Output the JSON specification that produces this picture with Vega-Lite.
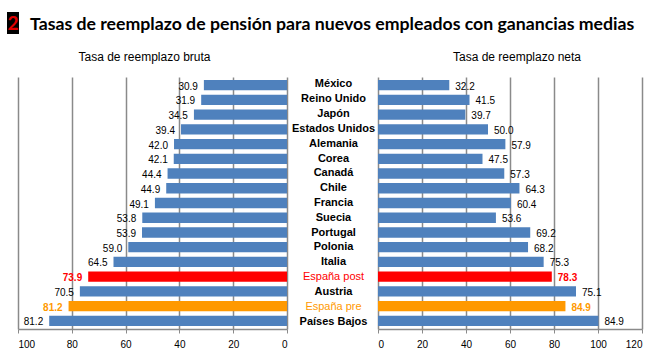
{
  "$schema": "https://vega.github.io/schema/vega-lite/v6.json",
  "padding": {"left": 7, "top": 9, "right": 5, "bottom": 5},
  "background": "white",
  "config": {
    "view": {"stroke": null},
    "font": "Liberation Sans"
  },
  "datasets": {
    "rows": [
      {"pais": "México", "bruta": 30.9, "bruta_lbl": 30.9, "neta": 32.4, "neta_lbl": 32.2, "tipo": "normal"},
      {"pais": "Reino Unido", "bruta": 31.9, "bruta_lbl": 31.9, "neta": 41.6, "neta_lbl": 41.5, "tipo": "normal"},
      {"pais": "Japón", "bruta": 34.6, "bruta_lbl": 34.5, "neta": 39.7, "neta_lbl": 39.7, "tipo": "normal"},
      {"pais": "Estados Unidos", "bruta": 39.4, "bruta_lbl": 39.4, "neta": 50.0, "neta_lbl": 50.0, "tipo": "normal"},
      {"pais": "Alemania", "bruta": 42.0, "bruta_lbl": 42.0, "neta": 57.9, "neta_lbl": 57.9, "tipo": "normal"},
      {"pais": "Corea", "bruta": 42.1, "bruta_lbl": 42.1, "neta": 47.5, "neta_lbl": 47.5, "tipo": "normal"},
      {"pais": "Canadá", "bruta": 44.4, "bruta_lbl": 44.4, "neta": 57.4, "neta_lbl": 57.3, "tipo": "normal"},
      {"pais": "Chile", "bruta": 44.9, "bruta_lbl": 44.9, "neta": 64.3, "neta_lbl": 64.3, "tipo": "normal"},
      {"pais": "Francia", "bruta": 49.1, "bruta_lbl": 49.1, "neta": 60.4, "neta_lbl": 60.4, "tipo": "normal"},
      {"pais": "Suecia", "bruta": 53.8, "bruta_lbl": 53.8, "neta": 53.6, "neta_lbl": 53.6, "tipo": "normal"},
      {"pais": "Portugal", "bruta": 53.9, "bruta_lbl": 53.9, "neta": 69.2, "neta_lbl": 69.2, "tipo": "normal"},
      {"pais": "Polonia", "bruta": 59.0, "bruta_lbl": 59.0, "neta": 68.2, "neta_lbl": 68.2, "tipo": "normal"},
      {"pais": "Italia", "bruta": 64.5, "bruta_lbl": 64.5, "neta": 75.3, "neta_lbl": 75.3, "tipo": "normal"},
      {"pais": "España post", "bruta": 73.9, "bruta_lbl": 73.9, "neta": 79.0, "neta_lbl": 78.3, "tipo": "post"},
      {"pais": "Austria", "bruta": 77.0, "bruta_lbl": 70.5, "neta": 90.0, "neta_lbl": 75.1, "tipo": "normal"},
      {"pais": "España pre", "bruta": 81.2, "bruta_lbl": 81.2, "neta": 85.2, "neta_lbl": 84.9, "tipo": "pre"},
      {"pais": "Países Bajos", "bruta": 88.4, "bruta_lbl": 81.2, "neta": 100.2, "neta_lbl": 84.9, "tipo": "normal"}
    ],
    "num": [{"n": "2"}]
  },
  "vconcat": [
    {
      "hconcat": [
        {
          "width": 12,
          "height": 22,
          "data": {"name": "num"},
          "layer": [
            {"mark": {"type": "point", "shape": "M-0.5454,-1H0.5454V1H-0.5454Z", "size": 484, "filled": true, "color": "#000000", "opacity": 1, "strokeWidth": 0, "xOffset": -11}},
            {"mark": {"type": "text", "color": "#E00000", "fontSize": 19, "fontWeight": "bold", "font": "Lato", "baseline": "middle", "align": "center", "dy": 1, "dx": -11},
             "encoding": {"text": {"field": "n"}}}
          ]
        },
        {
          "width": 600,
          "height": 1,
          "data": {"name": "num"},
          "title": {
            "text": "Tasas de reemplazo de pensión para nuevos empleados con ganancias medias",
            "orient": "bottom",
            "anchor": "start",
            "frame": "group",
            "baseline": "alphabetic",
            "offset": 15,
            "dx": -2,
            "font": "Lato",
            "fontSize": 17.7,
            "fontWeight": "bold",
            "color": "#000000"
          },
          "mark": {"type": "point", "opacity": 0}
        }
      ],
      "spacing": 0
    },
    {
      "hconcat": [
        {
          "width": 269,
          "height": 252,
          "data": {"name": "rows"},
          "title": {"text": "Tasa de reemplazo bruta", "fontSize": 12, "fontWeight": "normal", "font": "Liberation Sans", "color": "#000000", "offset": 13, "dx": -8},
          "encoding": {
            "y": {"field": "pais", "type": "nominal", "axis": null,
                  "scale": {"domain": ["México", "Reino Unido", "Japón", "Estados Unidos", "Alemania", "Corea", "Canadá", "Chile", "Francia", "Suecia", "Portugal", "Polonia", "Italia", "España post", "Austria", "España pre", "Países Bajos"],
                            "paddingInner": 0.3, "paddingOuter": 0.2}}
          },
          "layer": [
            {
              "mark": {"type": "bar"},
              "encoding": {
                "x": {"field": "bruta", "type": "quantitative",
                      "scale": {"domain": [0, 100], "reverse": true, "nice": false},
                      "axis": {"title": null, "values": [0, 20, 40, 60, 80, 100], "grid": true,
                               "gridColor": "#8a8a8a", "gridWidth": 1.5, "domainColor": "#8a8a8a", "domainWidth": 1.5,
                               "tickColor": "#8a8a8a", "tickSize": 4, "labelFontSize": 10, "labelColor": "#000000",
                               "labelPadding": 6, "labelFont": "Liberation Sans"}},
                "color": {"field": "tipo", "type": "nominal",
                          "scale": {"domain": ["normal", "post", "pre"], "range": ["#4F81BD", "#FF0000", "#FF9900"]},
                          "legend": null}
              }
            },
            {
              "transform": [{"filter": "datum.tipo == 'normal'"}],
              "mark": {"type": "text", "align": "right", "baseline": "middle", "dx": -6, "dy": 1.5, "fontSize": 10, "color": "#000000"},
              "encoding": {
                "x": {"field": "bruta", "type": "quantitative"},
                "text": {"field": "bruta_lbl", "type": "quantitative", "format": ".1f"}
              }
            },
            {
              "transform": [{"filter": "datum.tipo != 'normal'"}],
              "mark": {"type": "text", "align": "right", "baseline": "middle", "dx": -6, "dy": 1.5, "fontSize": 10, "fontWeight": "bold"},
              "encoding": {
                "x": {"field": "bruta", "type": "quantitative"},
                "text": {"field": "bruta_lbl", "type": "quantitative", "format": ".1f"},
                "color": {"field": "tipo", "type": "nominal", "legend": null}
              }
            }
          ]
        },
        {
          "width": 91,
          "height": 252,
          "data": {"name": "rows"},
          "encoding": {
            "y": {"field": "pais", "type": "nominal", "axis": null,
                  "scale": {"domain": ["México", "Reino Unido", "Japón", "Estados Unidos", "Alemania", "Corea", "Canadá", "Chile", "Francia", "Suecia", "Portugal", "Polonia", "Italia", "España post", "Austria", "España pre", "Países Bajos"],
                            "paddingInner": 0.3, "paddingOuter": 0.2}}
          },
          "layer": [
            {
              "transform": [{"filter": "datum.tipo == 'normal'"}],
              "mark": {"type": "text", "align": "center", "baseline": "middle", "fontSize": 11, "fontWeight": "bold", "color": "#000000", "dx": 1},
              "encoding": {"text": {"field": "pais"}}
            },
            {
              "transform": [{"filter": "datum.tipo != 'normal'"}],
              "mark": {"type": "text", "align": "center", "baseline": "middle", "fontSize": 11, "fontWeight": "normal", "dx": 1},
              "encoding": {
                "text": {"field": "pais"},
                "color": {"field": "tipo", "type": "nominal",
                          "scale": {"domain": ["normal", "post", "pre"], "range": ["#4F81BD", "#FF0000", "#FF9900"]},
                          "legend": null}
              }
            }
          ]
        },
        {
          "width": 264,
          "height": 252,
          "data": {"name": "rows"},
          "title": {"text": "Tasa de reemplazo neta", "fontSize": 12, "fontWeight": "normal", "font": "Liberation Sans", "color": "#000000", "offset": 13, "dx": 7},
          "encoding": {
            "y": {"field": "pais", "type": "nominal", "axis": null,
                  "scale": {"domain": ["México", "Reino Unido", "Japón", "Estados Unidos", "Alemania", "Corea", "Canadá", "Chile", "Francia", "Suecia", "Portugal", "Polonia", "Italia", "España post", "Austria", "España pre", "Países Bajos"],
                            "paddingInner": 0.3, "paddingOuter": 0.2}}
          },
          "layer": [
            {
              "mark": {"type": "bar"},
              "encoding": {
                "x": {"field": "neta", "type": "quantitative",
                      "scale": {"domain": [0, 120], "nice": false},
                      "axis": {"title": null, "values": [0, 20, 40, 60, 80, 100, 120], "grid": true,
                               "gridColor": "#8a8a8a", "gridWidth": 1.5, "domainColor": "#8a8a8a", "domainWidth": 1.5,
                               "tickColor": "#8a8a8a", "tickSize": 4, "labelFontSize": 10, "labelColor": "#000000",
                               "labelPadding": 6, "labelFont": "Liberation Sans"}},
                "color": {"field": "tipo", "type": "nominal",
                          "scale": {"domain": ["normal", "post", "pre"], "range": ["#4F81BD", "#FF0000", "#FF9900"]},
                          "legend": null}
              }
            },
            {
              "transform": [{"filter": "datum.tipo == 'normal'"}],
              "mark": {"type": "text", "align": "left", "baseline": "middle", "dx": 6, "dy": 1.5, "fontSize": 10, "color": "#000000"},
              "encoding": {
                "x": {"field": "neta", "type": "quantitative"},
                "text": {"field": "neta_lbl", "type": "quantitative", "format": ".1f"}
              }
            },
            {
              "transform": [{"filter": "datum.tipo != 'normal'"}],
              "mark": {"type": "text", "align": "left", "baseline": "middle", "dx": 6, "dy": 1.5, "fontSize": 10, "fontWeight": "bold"},
              "encoding": {
                "x": {"field": "neta", "type": "quantitative"},
                "text": {"field": "neta_lbl", "type": "quantitative", "format": ".1f"},
                "color": {"field": "tipo", "type": "nominal", "legend": null}
              }
            }
          ]
        }
      ],
      "spacing": 0,
      "bounds": "flush"
    }
  ],
  "spacing": 17
}
